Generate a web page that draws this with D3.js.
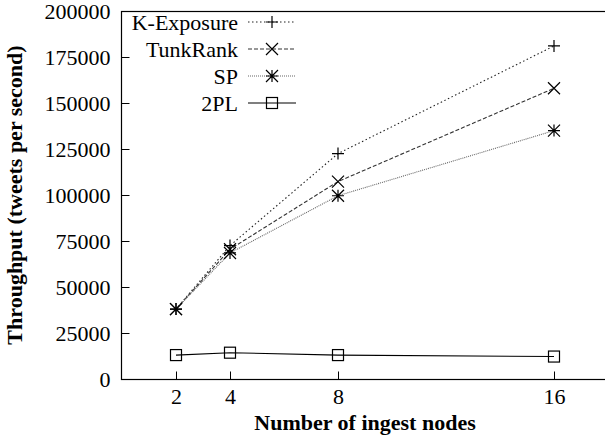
<!DOCTYPE html>
<html><head><meta charset="utf-8">
<script src="https://cdn.jsdelivr.net/npm/d3@7"></script>
</head>
<body style="margin:0"><svg id="c" width="605" height="436"></svg>
<script>
const nodes = [2, 4, 8, 16];
const kExposure = [38000, 72500, 122500, 181000];
const tunkRank = [38000, 70500, 107300, 158000];
const sp = [38000, 68500, 99600, 135000];
const twoPL = [13000, 14300, 13000, 12200];
const yTicks = [0, 25000, 50000, 75000, 100000, 125000, 150000, 175000, 200000];
const seriesNames = ["K-Exposure", "TunkRank", "SP", "2PL"];

const series = [
  {name: seriesNames[0], values: kExposure, dash: "1.5,2.5", color: "#222", marker: "plus"},
  {name: seriesNames[1], values: tunkRank, dash: "4,2", color: "#333", marker: "cross"},
  {name: seriesNames[2], values: sp, dash: "1,1", color: "#666", marker: "star"},
  {name: seriesNames[3], values: twoPL, dash: null, color: "#000", marker: "square"}
];

const svg = d3.select("#c");

// choose a Times-like family that really resolves (serif "K-Exposure" at 22px is ~106px wide)
let FONT = '"Liberation Serif"';
(function pickFont() {
  const cands = ["Liberation Serif", "Times New Roman", "Tinos", "Times", "Nimbus Roman", "FreeSerif"];
  for (const f of cands) {
    const t = svg.append("text").attr("x", -1000).attr("y", -1000).attr("font-size", 22)
      .style("font-family", `"${f}"`).text("K-Exposure");
    const w = t.node().getComputedTextLength();
    t.remove();
    if (w > 95 && w < 113) { FONT = `"${f}"`; return; }
  }
})();

const x = d3.scaleLinear().domain([0, 18]).range([122, 608]);
const y = d3.scaleLinear().domain([0, 200000]).range([379, 11]);

function styleText(sel) {
  sel.attr("font-size", 22).style("font-family", FONT).attr("fill", "#000");
  sel.each(function() { this.getComputedTextLength(); });
  return sel;
}

svg.append("rect").attr("x", 121.5).attr("y", 11.5).attr("width", 486).attr("height", 368)
  .attr("fill", "none").attr("stroke", "#000").attr("stroke-width", 1.2);

const yAxis = d3.axisLeft(y).tickValues(yTicks).tickSize(-8).tickPadding(11).tickFormat(d3.format("d"));
const gy = svg.append("g").attr("transform", "translate(121.5,0)").call(yAxis);
gy.attr("font-family", null).attr("font-size", null);
gy.select(".domain").remove();
styleText(gy.selectAll("text"));
gy.selectAll("line").attr("stroke", "#000");

const xAxis = d3.axisBottom(x).tickValues(nodes).tickSize(-8).tickPadding(9);
const gx = svg.append("g").attr("transform", "translate(0,379.5)").call(xAxis);
gx.attr("font-family", null).attr("font-size", null);
gx.select(".domain").remove();
styleText(gx.selectAll("text"));
gx.selectAll("line").attr("stroke", "#000");

styleText(svg.append("text").attr("x", 365).attr("y", 430).attr("text-anchor", "middle")
  .attr("font-weight", "bold").text("Number of ingest nodes"));
styleText(svg.append("text").attr("transform", "translate(22,195) rotate(-90)").attr("text-anchor", "middle")
  .attr("font-weight", "bold").text("Throughput (tweets per second)"));

function drawMarker(g, type, cx, cy) {
  const s = 6;
  if (type === "plus") {
    g.append("path").attr("d", `M${cx-s},${cy}H${cx+s}M${cx},${cy-s}V${cy+s}`)
      .attr("stroke", "#000").attr("stroke-width", 1.2).attr("fill", "none");
  } else if (type === "cross") {
    g.append("path").attr("d", `M${cx-s},${cy-s}L${cx+s},${cy+s}M${cx-s},${cy+s}L${cx+s},${cy-s}`)
      .attr("stroke", "#000").attr("stroke-width", 1.2).attr("fill", "none");
  } else if (type === "star") {
    g.append("path").attr("d", `M${cx-s},${cy}H${cx+s}M${cx},${cy-s}V${cy+s}M${cx-s},${cy-s}L${cx+s},${cy+s}M${cx-s},${cy+s}L${cx+s},${cy-s}`)
      .attr("stroke", "#000").attr("stroke-width", 1.2).attr("fill", "none");
  } else if (type === "square") {
    g.append("rect").attr("x", cx-5.5).attr("y", cy-5.5).attr("width", 11).attr("height", 11)
      .attr("stroke", "#000").attr("stroke-width", 1.2).attr("fill", "none");
  }
}

const line = d3.line().x((d, i) => x(nodes[i])).y(d => y(d));
series.forEach(s => {
  const p = svg.append("path").datum(s.values).attr("d", line)
    .attr("fill", "none").attr("stroke", s.color).attr("stroke-width", 1.1);
  if (s.dash) p.attr("stroke-dasharray", s.dash);
  const g = svg.append("g");
  s.values.forEach((v, i) => drawMarker(g, s.marker, x(nodes[i]), y(v)));
});

const legRows = [22, 49, 76, 103];
series.forEach((s, i) => {
  const ly = legRows[i];
  styleText(svg.append("text").attr("x", 238).attr("y", ly).attr("dy", "0.35em").attr("text-anchor", "end")
    .text(s.name));
  const p = svg.append("line").attr("x1", 248).attr("x2", 296).attr("y1", ly).attr("y2", ly)
    .attr("stroke", s.color).attr("stroke-width", 1.1);
  if (s.dash) p.attr("stroke-dasharray", s.dash);
  drawMarker(svg, s.marker, 272, ly);
});

// re-apply once fonts are settled
if (document.fonts && document.fonts.ready) {
  document.fonts.ready.then(() => { svg.selectAll("text").style("font-family", FONT); });
}
</script></body></html>
